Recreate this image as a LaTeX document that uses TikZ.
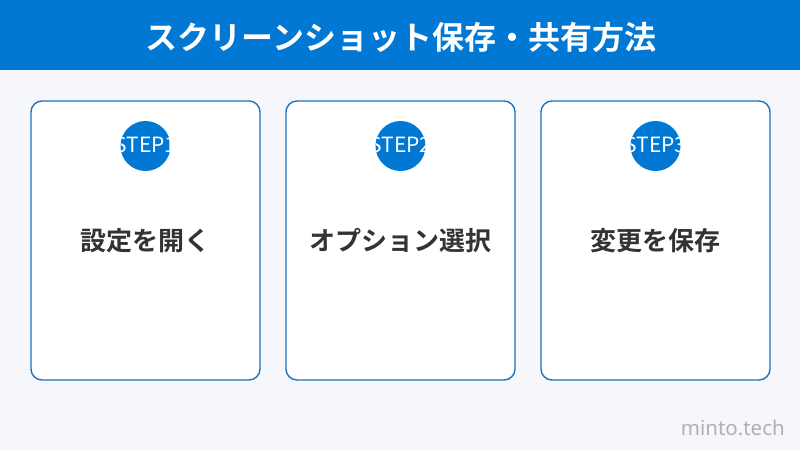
\documentclass[tikz,border=0pt]{standalone}
\usepackage{fontspec}
\setmainfont{Noto Sans}
\newfontfamily\jpbold{Noto Sans CJK JP Bold}
\newfontfamily\jpreg{Noto Sans CJK JP}
\definecolor{hdrblue}{HTML}{0078D4}
\definecolor{bgcol}{HTML}{F5F7FA}
\definecolor{cardline}{HTML}{1A73C0}
\definecolor{txtdark}{HTML}{333333}
\definecolor{wmgray}{HTML}{B0B0B0}
\tikzset{
  card/.style={draw=cardline, line width=1.4pt, fill=white, rounded corners=11pt},
  stepcirc/.style={circle, fill=hdrblue, minimum size=50pt, inner sep=0pt},
  steptext/.style={text=white, font=\jpreg\fontsize{21}{21}\selectfont, inner sep=0pt},
  cardtitle/.style={text=txtdark, font=\jpbold\fontsize{26}{26}\selectfont, inner sep=0pt},
}
\begin{document}
\begin{tikzpicture}[x=1pt,y=-1pt]
\useasboundingbox (0,0) rectangle (800,450);
\fill[bgcol] (0,0) rectangle (800,450);
\fill[hdrblue] (0,0) rectangle (800,70);
\node[text=white, font=\jpbold\fontsize{32}{32}\selectfont, inner sep=0pt] (title) at (401,37) {スクリーンショット保存・共有方法};
\foreach \i/\cx/\lab in {1/145.5/設定を開く, 2/400.5/オプション選択, 3/655.5/変更を保存} {
  \draw[card] (\cx-114.5,101) rectangle (\cx+114.5,380);
  \node[stepcirc] (c\i) at (\cx,146) {};
  \begin{scope}
    \clip (\cx,146) circle (25);
    \node[steptext] (s\i) at (\cx,145) {STEP\i};
  \end{scope}
  \node[cardtitle] (t\i) at (\cx,241) {\lab};
}
\node[text=wmgray, font=\fontsize{20.5}{20.5}\selectfont, anchor=east, inner sep=0pt] (wm) at (785,428) {minto.tech};
\end{tikzpicture}
\end{document}
